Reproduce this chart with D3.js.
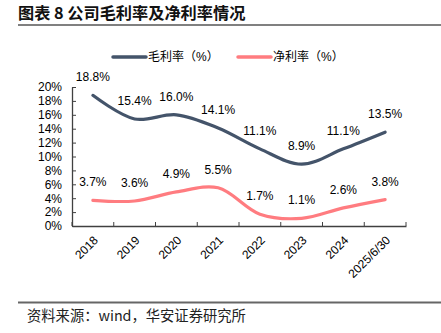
<!DOCTYPE html>
<html lang="zh">
<head>
<meta charset="UTF-8">
<title>公司毛利率及净利率情况</title>
<script src="https://d3js.org/d3.v7.min.js"></script>
<style>
  body { margin: 0; background: #fff; }
  svg { display: block; font-family: "Liberation Sans", Arial, "Noto Sans CJK SC", sans-serif; }
</style>
</head>
<body>
<div id="chart"></div>
<script>
// data
var years = ['2018', '2019', '2020', '2021', '2022', '2023', '2024', '2025/6/30'];
var grossMargin = [18.8, 15.4, 16.0, 14.1, 11.1, 8.9, 11.1, 13.5];
var netMargin = [3.7, 3.6, 4.9, 5.5, 1.7, 1.1, 2.6, 3.8];
var yTicks = [0, 2, 4, 6, 8, 10, 12, 14, 16, 18, 20];

var width = 441, height = 333;
// plot box
var plotL = 72, plotR = 406, plotT = 87, plotB = 226;
var navy = '#44546a', pink = '#ff7c80';

var svg = d3.select('#chart').append('svg')
  .attr('width', width)
  .attr('height', height);

// title + rules
svg.append('text')
  .attr('x', 18).attr('y', 19)
  .attr('font-family', '"Noto Sans CJK SC", sans-serif')
  .attr('font-weight', 'bold')
  .attr('font-size', 16.2)
  .attr('fill', '#111')
  .text('图表 8 公司毛利率及净利率情况');

svg.append('line')
  .attr('x1', 18).attr('x2', 441)
  .attr('y1', 25).attr('y2', 25)
  .attr('stroke', '#808080').attr('stroke-width', 2);

svg.append('line')
  .attr('x1', 18).attr('x2', 441)
  .attr('y1', 302.5).attr('y2', 302.5)
  .attr('stroke', '#666').attr('stroke-width', 2);

svg.append('text')
  .attr('x', 27).attr('y', 321)
  .attr('font-family', '"Noto Sans CJK SC", sans-serif')
  .attr('font-size', 14.3)
  .attr('fill', '#222')
  .text('资料来源：wind，华安证券研究所');

// scales
var x = d3.scaleBand().domain(years).range([plotL, plotR]);
var y = d3.scaleLinear().domain([0, 20]).range([plotB, plotT]);

// axes (ticks point inward)
var yAxis = svg.append('g')
  .attr('transform', 'translate(' + plotL + ',0)')
  .call(d3.axisLeft(y).tickValues(yTicks).tickSize(-4).tickSizeOuter(0)
    .tickFormat(function (d) { return d + '%'; }));
yAxis.selectAll('text').attr('x', -10).attr('font-size', 12).attr('fill', '#000');

var xAxis = svg.append('g')
  .attr('transform', 'translate(0,' + plotB + ')')
  .call(d3.axisBottom(x).tickSize(0).tickSizeOuter(0).tickFormat(''));
xAxis.selectAll('.tick').remove();
// category boundaries
xAxis.selectAll('.bound')
  .data(years.concat(['end']))
  .enter().append('line')
  .attr('x1', function (d, i) { return plotL + i * x.step(); })
  .attr('x2', function (d, i) { return plotL + i * x.step(); })
  .attr('y1', 0).attr('y2', -4)
  .attr('stroke', '#404040');

svg.selectAll('g .domain').attr('stroke', '#404040').attr('stroke-width', 1.3);
svg.selectAll('g .tick line').attr('stroke', '#404040');

svg.append('g').selectAll('text')
  .data(years)
  .enter().append('text')
  .attr('transform', function (d) {
    return 'translate(' + (x(d) + x.bandwidth() / 2 + 3) + ',' + (plotB + 12) + ') rotate(-45)';
  })
  .attr('text-anchor', 'end')
  .attr('dy', '0.35em')
  .attr('font-size', 12)
  .attr('fill', '#000')
  .text(function (d) { return d; });

// lines
var line = d3.line()
  .x(function (d, i) { return x(years[i]) + x.bandwidth() / 2; })
  .y(function (d) { return y(d); })
  .curve(d3.curveCatmullRom.alpha(0.5));

function drawSeries(values, color) {
  svg.append('path')
    .datum(values)
    .attr('d', line)
    .attr('fill', 'none')
    .attr('stroke', color)
    .attr('stroke-width', 3.2)
    .attr('stroke-linecap', 'round');

  svg.append('g').selectAll('text')
    .data(values)
    .enter().append('text')
    .attr('x', function (d, i) { return x(years[i]) + x.bandwidth() / 2; })
    .attr('y', function (d) { return y(d) - 14; })
    .attr('text-anchor', 'middle')
    .attr('font-size', 12)
    .attr('fill', '#000')
    .text(function (d) { return d.toFixed(1) + '%'; });
}

drawSeries(grossMargin, navy);
drawSeries(netMargin, pink);

// legend
var legend = [
  { name: '毛利率（%）', color: navy, x: 113 },
  { name: '净利率（%）', color: pink, x: 238 }
];
var lg = svg.append('g').selectAll('g')
  .data(legend)
  .enter().append('g')
  .attr('transform', function (d) { return 'translate(' + d.x + ',57)'; });
lg.append('line')
  .attr('x1', 0).attr('x2', 33)
  .attr('stroke', function (d) { return d.color; })
  .attr('stroke-width', 3.5)
  .attr('stroke-linecap', 'round');
lg.append('text')
  .attr('x', 35).attr('dy', '0.35em')
  .attr('font-size', 12)
  .attr('fill', '#000')
  .text(function (d) { return d.name; });
</script>
</body>
</html>
